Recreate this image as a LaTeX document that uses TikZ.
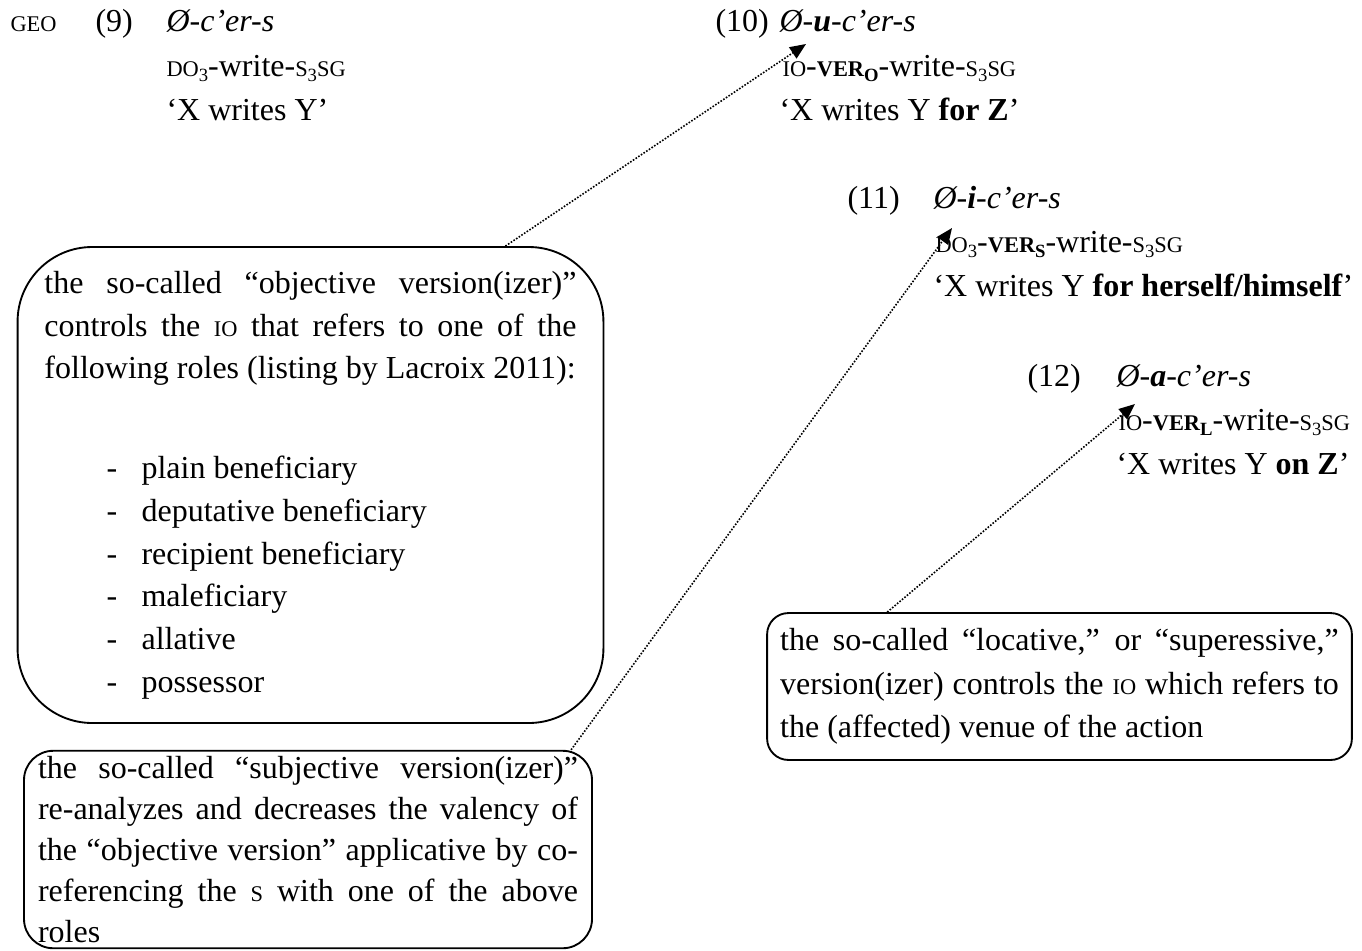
\documentclass[tikz,border=0pt]{standalone}
\usepackage{fontspec}
\setmainfont{Liberation Serif}
\usetikzlibrary{arrows.meta}

\newcommand\smc[1]{{\fontsize{8.4}{16}\selectfont #1}}
\newcommand\sub[1]{\raisebox{-2pt}{\fontsize{7}{8}\selectfont #1}}
\newcommand\jtext{\tolerance=10000 \hyphenpenalty=10000 }
\newcommand\role[1]{\makebox[36.4pt][l]{\hspace*{23.3pt}-}#1}

\tikzset{
  ex/.style={inner sep=0pt, anchor=base west, font=\fontsize{12}{16}\selectfont},
  note/.style={draw, line width=0.7pt, align=justify, inner ysep=2pt},
  pointer/.style={line width=0.6pt, dash pattern=on 0.6pt off 0.6pt,
    -{Triangle[length=6pt,width=5pt]}},
}

\begin{document}
\begin{tikzpicture}[x=0.375pt,y=-0.375pt]
  \useasboundingbox (0,0) rectangle (1362,950);
        %% examples
        \node[ex] (geo) at (10,31) {\smc{GEO}};
        \node[ex] (n9) at (95,31) {(9)};
        \node[ex] (m9) at (166,31) {\textit{Ø-c’er-s}};
        \node[ex] (g9) at (166,76) {\smc{DO}\sub{3}-write-\smc{S}\sub{3}\smc{SG}};
        \node[ex] (t9) at (166,120) {‘X writes Y’};

        \node[ex] (n10) at (715,31) {(10)};
        \node[ex] (m10) at (779,31) {\textit{Ø-\textbf{u}-c’er-s}};
        \node[ex] (g10) at (782,76) {\smc{IO}-\textbf{\smc{VER}\sub{O}}-write-\smc{S}\sub{3}\smc{SG}};
        \node[ex] (t10) at (779,120) {‘X writes Y \textbf{for Z}’};

        \node[ex] (n11) at (847,208) {(11)};
        \node[ex] (m11) at (933,208) {\textit{Ø-\textbf{i}-c’er-s}};
        \node[ex] (g11) at (935,252) {\smc{DO}\sub{3}-\textbf{\smc{VER}\sub{S}}-write-\smc{S}\sub{3}\smc{SG}};
        \node[ex] (t11) at (933,296) {‘X writes Y \textbf{for herself/himself}’};

        \node[ex] (n12) at (1027,386) {(12)};
        \node[ex] (m12) at (1116,386) {\textit{Ø-\textbf{a}-c’er-s}};
        \node[ex] (g12) at (1118,430) {\smc{IO}-\textbf{\smc{VER}\sub{L}}-write-\smc{S}\sub{3}\smc{SG}};
        \node[ex] (t12) at (1116,474) {‘X writes Y \textbf{on Z}’};

        %% notes
        \node[note, text width=199.5pt, inner xsep=10.1pt, minimum height=178.5pt,
              rounded corners=28pt, font=\fontsize{12}{16}\selectfont\jtext] (objbox) at (310.5,485)
          {the so-called “objective version(izer)”\linebreak
           controls the \smc{IO} that refers to one of the\linebreak
           following roles (listing by Lacroix 2011):\\[21.5pt]
           \role{plain beneficiary}\\
           \role{deputative beneficiary}\\
           \role{recipient beneficiary}\\
           \role{maleficiary}\\
           \role{allative}\\
           \role{possessor}};
        \node[note, text width=202.5pt, inner xsep=5.25pt, rounded corners=11pt,
              font=\fontsize{12}{15.4}\selectfont\jtext] (subjbox) at (308,849.5)
          {the so-called “subjective version(izer)”\linebreak
           re-analyzes and decreases the valency of\linebreak
           the “objective version” applicative by co-\linebreak
           referencing the \smc{S} with one of the above\linebreak
           roles};
        \node[note, text width=209.5pt, inner xsep=4.9pt, minimum height=55.1pt,
              rounded corners=8pt, font=\fontsize{12}{16.3}\selectfont\jtext] (locbox) at (1059.5,686.5)
          {the so-called “locative,” or “superessive,”\linebreak
           version(izer) controls the \smc{IO} which refers to\linebreak
           the (affected) venue of the action};

        %% pointers
        \coordinate (tip10) at (806,44);
        \coordinate (tip11) at (952,228);
        \coordinate (tip12) at (1135,404);
        \draw[pointer] ([xshift=73.1pt]objbox.north) -- (tip10);
        \draw[pointer] ([xshift=-8.2pt]subjbox.north east) -- (tip11);
        \draw[pointer] ([xshift=45.4pt]locbox.north west) -- (tip12);
\end{tikzpicture}
\end{document}
